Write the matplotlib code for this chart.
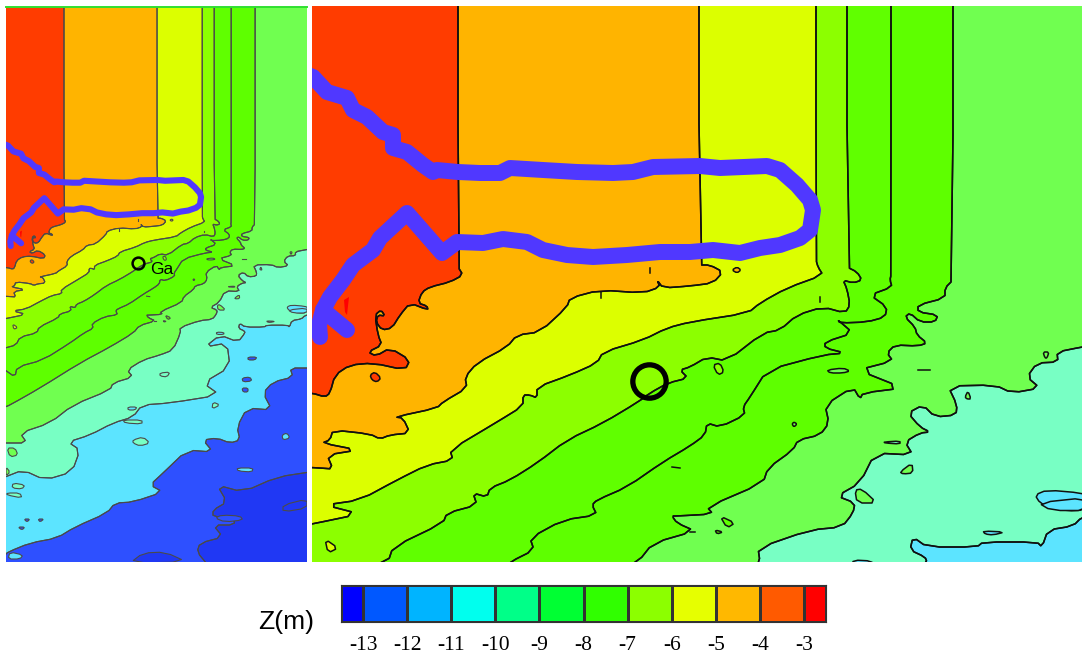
import matplotlib
matplotlib.use("Agg")
import matplotlib.pyplot as plt
from matplotlib.colors import ListedColormap
import numpy as np

W, H = 1082, 657
TOP = -300
BOT = 1160
LEFT = 300
RIGHT = 1095

# scale between overview map pixels and zoom map pixels
S = 2.59
def ov(pts):
    return [(458 + (x - 64) * S, 381 + (y - 263) * S) for x, y in pts]

# band colours by depth, shallow to deep
c_m35 = '#FF3C00'
c_m45 = '#FFB400'
c_m55 = '#DCFF00'
c_m65 = '#8CFF00'
c_m75 = '#60FF00'
c_m85 = '#5EFF00'
c_m95 = '#70FF50'
c_m105 = '#78FFC4'
c_m115 = '#5CE4FF'
c_m125 = '#2E50FF'
c_m135 = '#2038F4'
track_color = '#5038FF'

# contour lines
z_m4 = [(458, TOP), (458, 267), (463, 275), (450, 282), (430, 287), (422, 292), (418, 303), (427, 306), (428, 310),
        (410, 303), (400, 315), (392, 328), (382, 330), (376, 322), (378, 315), (385, 316), (381, 310), (375, 315),
        (378, 335), (382, 345), (368, 352), (376, 356), (390, 348), (410, 360), (405, 370), (373, 363), (350, 365),
        (335, 375), (330, 393), (325, 397), (312, 393), (LEFT, 393)]
z_m5 = [(699, TOP), (699, 265), (710, 265), (723, 272), (713, 283), (690, 286), (663, 288), (657, 280), (660, 287),
        (643, 293), (600, 290), (570, 298), (567, 307), (540, 332), (517, 335), (507, 347), (477, 363), (465, 377),
        (467, 388), (443, 402), (437, 408), (395, 417), (403, 418), (410, 433), (390, 435), (380, 439), (370, 434),
        (333, 430), (330, 440), (322, 443), (358, 450), (327, 455), (333, 469), (320, 468), (LEFT, 467)]
z_m6 = [(816, TOP), (816, 260), (818, 267), (823, 275), (787, 288), (760, 303), (748, 313), (690, 322), (667, 328),
        (643, 340), (603, 352), (597, 363), (570, 375), (537, 387), (537, 398), (530, 395), (523, 395), (523, 406),
        (497, 422), (450, 450), (453, 460), (427, 465), (397, 480), (360, 500), (325, 505), (360, 514), (312, 524),
        (LEFT, 526)]
z_m7 = [(847, TOP), (847, 267), (857, 272), (862, 280), (853, 283), (843, 280), (847, 289), (850, 305), (845, 313),
        (823, 307), (797, 315), (780, 330), (763, 333), (727, 361), (707, 357), (690, 367), (680, 370), (688, 378),
        (668, 383), (650, 393), (638, 402), (603, 423), (567, 440), (537, 463), (510, 480), (490, 488), (487, 497),
        (473, 493), (477, 505), (447, 513), (443, 523), (393, 547), (388, 562)] + ov(
        [(20, 337), (16, 345), (5, 348)])
z_m8 = [(891, TOP), (891, 275), (890, 280), (892, 287), (870, 295), (887, 307), (885, 317), (867, 322), (840, 323),
        (838, 320), (853, 333), (825, 342), (825, 348), (845, 353), (823, 355), (767, 370), (750, 397), (743, 407),
        (745, 415), (720, 427), (707, 423), (705, 435), (690, 446), (663, 462), (627, 487), (597, 500), (592, 505),
        (597, 515), (563, 520), (530, 538), (534, 550), (510, 562)] + ov(
        [(70, 343), (43, 360), (17, 367), (15, 377), (5, 370)])
z_m9 = [(953, TOP), (953, 280), (945, 288), (945, 298), (918, 305), (918, 312), (938, 315), (935, 322), (920, 322),
        (910, 313), (905, 317), (915, 327), (917, 335), (927, 343), (918, 346), (895, 345), (887, 353), (893, 361),
        (858, 370), (903, 388), (863, 393), (860, 399), (853, 387), (825, 405), (829, 423), (820, 435), (798, 440),
        (793, 450), (768, 468), (763, 483), (707, 507), (713, 514), (677, 516), (672, 516), (677, 523), (695, 531),
        (653, 543), (638, 562)] + ov([(110, 347), (80, 363), (40, 388), (10, 405), (5, 407)])
z_m10 = [(RIGHT, 345), (1082, 347), (1057, 352), (1058, 362), (1037, 363), (1027, 377), (1040, 388), (1012, 393),
         (995, 385), (948, 386), (957, 405), (956, 415), (935, 417), (923, 405), (908, 413), (920, 427), (930, 432),
         (920, 433), (905, 442), (913, 455), (875, 453), (860, 483), (837, 496), (855, 503), (853, 513), (842, 527),
         (810, 530), (758, 548), (760, 562)] + ov(
         [(173, 350), (160, 355), (143, 360), (127, 370), (133, 377), (113, 383), (110, 390), (73, 405), (50, 423),
          (20, 433), (27, 443), (5, 443)])
z_m11 = [(RIGHT, 515), (1082, 517), (1073, 526), (1048, 530), (1042, 547), (1037, 542), (983, 542), (977, 547),
         (927, 547), (913, 537), (910, 550), (925, 557), (927, 562)] + ov(
         [(238, 342), (220, 335), (205, 347), (227, 343), (230, 367), (203, 383), (220, 395), (170, 403), (142, 405),
          (133, 417), (113, 423), (90, 435), (68, 442), (80, 450), (72, 472), (45, 480), (23, 470), (5, 477)])
z_m12 = ov([(310, 368), (290, 368), (293, 377), (273, 382), (263, 393), (272, 410), (247, 408), (237, 427), (240, 440),
            (230, 443), (217, 438), (203, 440), (213, 452), (187, 450), (163, 473), (150, 485), (163, 492), (133, 502),
            (115, 503), (107, 513), (75, 527), (57, 538), (30, 543), (8, 552), (5, 555)])
z_m13 = ov([(310, 472), (277, 477), (243, 492), (217, 485), (227, 502), (213, 510), (213, 517), (233, 517), (235, 525),
            (213, 525), (223, 537), (200, 543), (197, 552), (207, 564)])

contours = [(z_m4, c_m45), (z_m5, c_m55), (z_m6, c_m65), (z_m7, c_m75), (z_m8, c_m85), (z_m9, c_m95),
            (z_m10, c_m105), (z_m11, c_m115), (z_m12, c_m125), (z_m13, c_m135)]

# closed patches: outline, fill
islands = [
    ([(325, 539), (338, 548), (328, 553)], c_m55),
    ([(370, 375), (375, 372), (381, 378), (377, 382), (372, 380)], c_m35),
    ([(732, 270), (737, 267), (741, 270), (737, 273)], c_m45),
    ([(713, 365), (720, 363), (724, 372), (718, 375)], c_m65),
    ([(792, 424), (794, 422), (797, 424), (794, 427)], c_m95),
    ([(827, 370), (843, 368), (850, 371), (843, 373), (830, 373)], c_m95),
    ([(884, 442), (900, 441), (900, 444), (885, 443)], c_m105),
    ([(965, 397), (968, 391), (971, 399), (967, 399)], c_m95),
    ([(1043, 352), (1049, 352), (1047, 358), (1045, 358)], c_m95),
    ([(900, 472), (912, 463), (913, 473), (903, 474)], c_m95),
    ([(855, 490), (862, 489), (877, 503), (857, 503)], c_m95),
    ([(720, 516), (735, 523), (727, 528)], c_m85),
    ([(715, 530), (723, 532), (717, 534)], c_m85),
    ([(1035, 495), (1047, 490), (1082, 493), (1090, 497), (1085, 510), (1067, 511), (1050, 507), (1040, 503)], c_m115),
    ([(983, 531), (1005, 532), (993, 535), (985, 534)], c_m115),
    ([(853, 560), (872, 561), (872, 566), (853, 566)], c_m115),
] + [(ov(p), c) for p, c in [
    ([(128, 407), (137, 407), (135, 410), (128, 410)], c_m115),
    ([(123, 420), (142, 420), (142, 424), (125, 423)], c_m105),
    ([(133, 440), (143, 437), (150, 443), (140, 446), (133, 443)], c_m105),
    ([(248, 357), (257, 357), (255, 360), (248, 360)], c_m125),
    ([(242, 378), (250, 377), (252, 381), (243, 382)], c_m125),
    ([(242, 388), (248, 388), (248, 392), (243, 392)], c_m125),
    ([(24, 519), (30, 519), (27, 522)], c_m125),
    ([(38, 519), (44, 519), (40, 522)], c_m125),
    ([(18, 527), (25, 527), (22, 530)], c_m125),
    ([(282, 435), (287, 433), (290, 438), (283, 440)], c_m115),
    ([(237, 468), (253, 468), (252, 472), (238, 471)], c_m115),
    ([(288, 310), (307, 308), (307, 313), (293, 313)], c_m115),
    ([(283, 505), (307, 499), (307, 508), (283, 512)], c_m135),
    ([(215, 518), (222, 515), (240, 516), (243, 520), (225, 522)], c_m125),
    ([(143, 553), (165, 552), (187, 562), (130, 563)], c_m135),
    ([(7, 448), (15, 448), (18, 455), (10, 457)], c_m95),
    ([(6, 467), (10, 472), (6, 476)], c_m95),
    ([(7, 493), (20, 493), (22, 498), (7, 495)], c_m105),
    ([(13, 483), (25, 485), (22, 489), (12, 488)], c_m105),
    ([(213, 402), (220, 405), (212, 409)], c_m105),
    ([(160, 373), (170, 372), (167, 377), (160, 376)], c_m105),
    ([(10, 552), (23, 555), (20, 559), (8, 559)], c_m115),
]]

# short isolated contour dashes
dashes = [[(650, 268), (650, 273)], [(601, 292), (601, 298)], [(672, 467), (680, 468)], [(820, 297), (820, 302)],
          [(918, 370), (930, 370)], [(690, 532), (695, 532)]]

# patch of the shallowest band under the track
red_patch = [(344, 300), (349, 297), (347, 315), (345, 312)]

# survey track
track_x = [300, 313, 327, 347, 353, 367, 383, 393, 393, 407, 423, 433, 437, 458, 480, 500, 510, 543, 577, 613, 633,
           653, 700, 720, 767, 780, 797, 810, 813, 810, 800, 780, 760, 740, 713, 690, 660, 627, 593, 567, 543, 527,
           503, 483, 457, 442, 407, 380, 373, 353, 343, 330, 323, 319, 320]
track_y = [72, 77, 92, 98, 110, 117, 132, 135, 148, 152, 165, 172, 170, 172, 173, 173, 168, 170, 172, 173, 172,
           167, 166, 168, 166, 170, 185, 200, 210, 230, 238, 245, 248, 253, 250, 252, 252, 255, 257, 255, 250, 242,
           239, 243, 242, 253, 213, 238, 250, 265, 280, 297, 310, 325, 337]
branch_x = [323, 347]
branch_y = [310, 330]

station_x = [649]
station_y = [381]
station_name = 'Ga'

# colour bar
cb_ticks = [-13, -12, -11, -10, -9, -8, -7, -6, -5, -4, -3]
cb_edges = [-13.5] + cb_ticks + [-2.5]
cb_colors = ['#0000FF', '#0058FF', '#00B4FF', '#00FFEE', '#00FF88', '#00FF33', '#30FF00', '#8CFF00', '#E6FF00',
             '#FFB800', '#FF5A00', '#FF0000']

fig = plt.figure(figsize=(W / 100, H / 100), dpi=100, facecolor='white')

def axpx(x0, y0, x1, y1):
    return fig.add_axes([x0 / W, 1 - y1 / H, (x1 - x0) / W, (y1 - y0) / H])

def close_poly(pts):
    pts = list(pts)
    first, last = pts[0], pts[-1]
    tail = []
    if last[1] < 1100:
        tail.append((LEFT, BOT))
    else:
        tail.append((last[0], BOT))
    tail.append((RIGHT, BOT))
    if first[1] < 0:
        tail.append((RIGHT, TOP))
    return pts + tail

def round_corners(pts, closed=False):
    # one corner-cutting pass so the outlines are not faceted
    p = np.array(pts, dtype=float)
    q = p[:-1] * 0.75 + p[1:] * 0.25
    r = p[:-1] * 0.25 + p[1:] * 0.75
    mid = np.empty((len(q) * 2, 2))
    mid[0::2] = q
    mid[1::2] = r
    if closed:
        extra = [p[-1] * 0.75 + p[0] * 0.25, p[-1] * 0.25 + p[0] * 0.75]
        return np.vstack([mid, extra])
    return np.vstack([p[:1], mid, p[-1:]])

def draw_map(ax, lw, lc, track_lw, ring_ms, ring_mew):
    ax.fill([LEFT, RIGHT, RIGHT, LEFT], [TOP, TOP, BOT, BOT], facecolor=c_m35, edgecolor='none', zorder=1)
    for pts, col in contours:
        line = [tuple(v) for v in round_corners(pts)]
        ax.fill(*zip(*close_poly(line)), facecolor=col, edgecolor='none', zorder=2)
        ax.plot(*zip(*line), color=lc, lw=lw, zorder=3, solid_joinstyle='round')
    # lines are drawn after all fills
    for pts, col in contours:
        line = round_corners(pts)
        ax.plot(line[:, 0], line[:, 1], color=lc, lw=lw, zorder=3, solid_joinstyle='round')
    for pts, col in islands:
        loop = round_corners(pts, closed=True)
        ax.fill(loop[:, 0], loop[:, 1], facecolor=col, edgecolor=lc, lw=lw, zorder=4, joinstyle='round')
    for pts in dashes:
        ax.plot(*zip(*pts), color=lc, lw=lw, zorder=4)
    ax.fill(*zip(*red_patch), facecolor='#FF0000', edgecolor='none', zorder=4)
    ax.plot(track_x, track_y, color=track_color, lw=track_lw, zorder=5, solid_capstyle='round', solid_joinstyle='round')
    ax.plot(branch_x, branch_y, color=track_color, lw=track_lw, zorder=5, solid_capstyle='round')
    ax.plot(station_x, station_y, 'o', mfc='none', mec='black', ms=ring_ms, mew=ring_mew, zorder=6)
    ax.set_axis_off()

# overview panel
ax1 = axpx(6, 7, 307, 562)
draw_map(ax1, 0.8, '#4a4a4a', 4.4, 8.5, 1.8)
ax1.set_xlim(458 + (6 - 64) * S, 458 + (307 - 64) * S)
ax1.set_ylim(381 + (562 - 263) * S, 381 + (7 - 263) * S)
ax1.plot([0, 1], [1, 1], transform=ax1.transAxes, color='#30E030', lw=1.4, clip_on=False, zorder=7)
fig.text(150 / W, 1 - 269 / H, station_name, fontsize=12.5, family='Liberation Sans', va='center', ha='left')

# zoom panel
ax2 = axpx(312, 6, 1082, 562)
draw_map(ax2, 1.1, '#101010', 11.5, 24, 3.8)
ax2.set_xlim(312, 1082)
ax2.set_ylim(562, 6)

# colour bar
cax = axpx(341, 585, 826, 622)
cax.pcolormesh(np.array(cb_edges), [0, 1], np.arange(12).reshape(1, 12),
               cmap=ListedColormap(cb_colors), vmin=-0.5, vmax=11.5,
               edgecolors='#333333', linewidth=0.8)
cax.set_xlim(cb_edges[0], cb_edges[-1])
cax.set_yticks([])
cax.set_xticks(cb_ticks)
cax.set_xticklabels([str(t) for t in cb_ticks], family='Liberation Serif', fontsize=15.5)
cax.tick_params(axis='x', length=0, pad=10)
for s in cax.spines.values():
    s.set_color('#333333')
    s.set_linewidth(0.8)

fig.text(258 / W, 1 - 622 / H, 'Z(m)', fontsize=19, family='Liberation Sans', va='center', ha='left')

fig.savefig('out.png', dpi=100)
